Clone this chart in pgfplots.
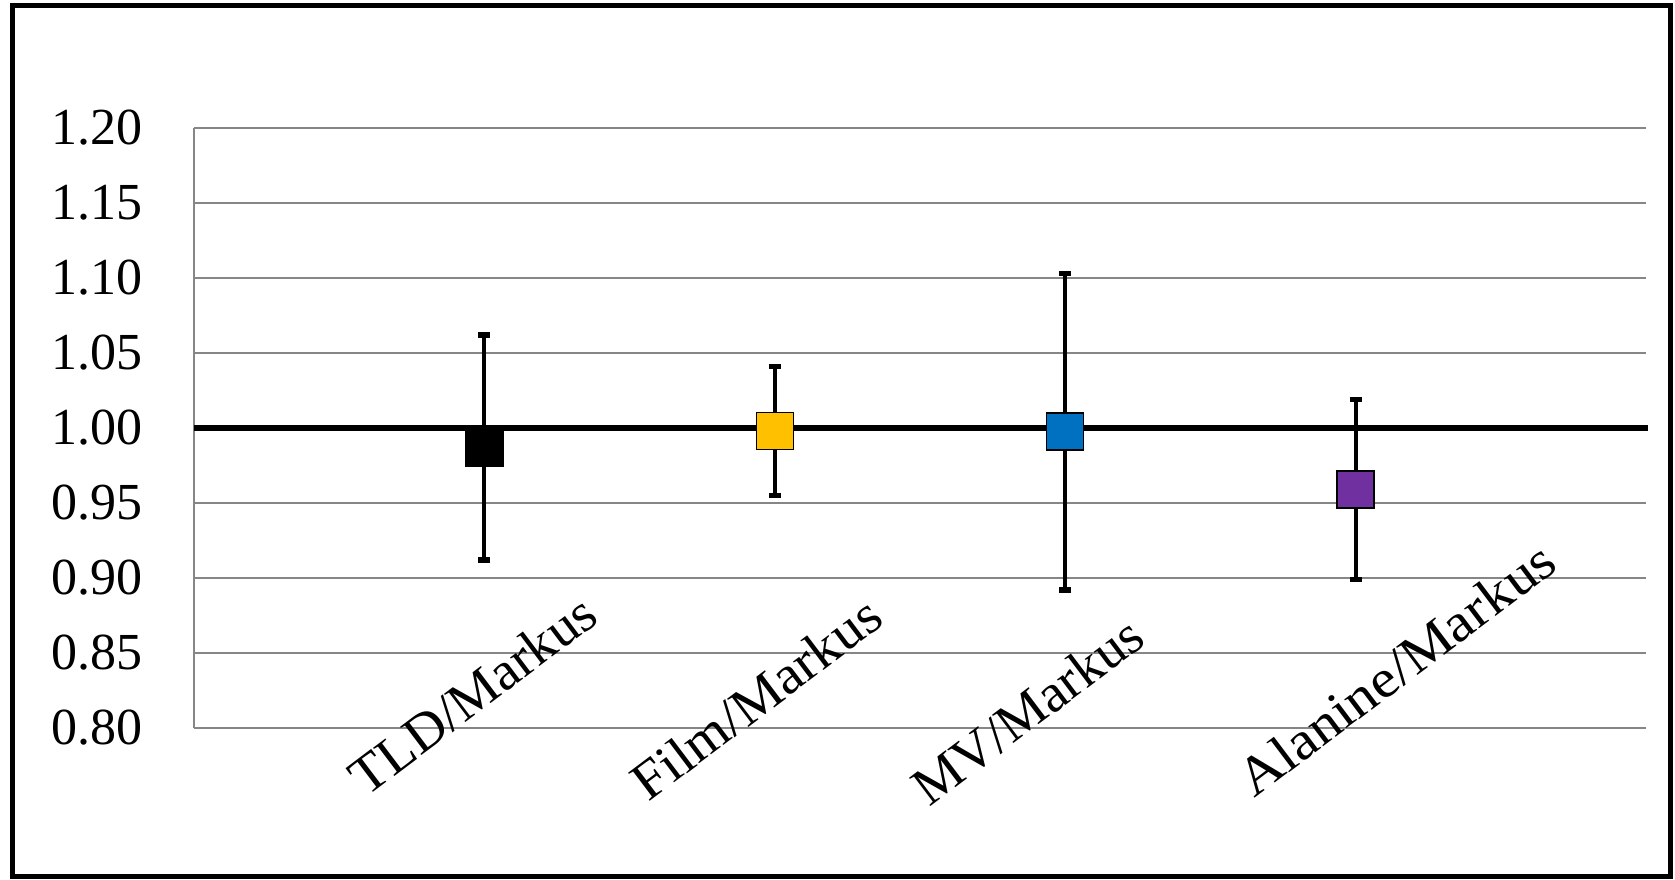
\documentclass[border=0pt]{standalone}
\usepackage{pgfplots}
\pgfplotsset{compat=1.18}
\usepackage{pgfplotstable}
\usepackage{fontspec}
\setmainfont{Liberation Serif}
\definecolor{filmc}{HTML}{FFC000}
\definecolor{mvc}{HTML}{0070C0}
\definecolor{alac}{HTML}{7030A0}
\definecolor{gridc}{HTML}{868686}
\pgfplotstableread{
x y err
1 0.987 0.075
2 0.998 0.043
3 0.9975 0.1055
4 0.959 0.060
}\datatab
\pgfplotstableread{
x y
1 0.987
}\tld
\pgfplotstableread{
x y
2 0.998
}\film
\pgfplotstableread{
x y
3 0.9975
}\mv
\pgfplotstableread{
x y
4 0.959
}\ala
\begin{document}
\begin{tikzpicture}
\useasboundingbox (0,0) rectangle (837.5pt,439.5pt);
\draw[line width=2.5pt] (6.2pt,1.2pt) rectangle (835pt,436.5pt);
\begin{axis}[
  at={(97pt,75.5pt)}, anchor=south west,
  scale only axis, width=726pt, height=300pt,
  xmin=0, xmax=5, ymin=0.8, ymax=1.2,
  clip=false,
  separate axis lines,
  axis x line=none,
  axis y line*=left,
  y axis line style={gridc, line width=0.75pt, -},
  ytick={0.80,0.85,0.90,0.95,1.00,1.05,1.10,1.15,1.20},
  major tick length=0pt,
  ymajorgrids,
  grid style={gridc, line width=0.75pt},
  yticklabel style={/pgf/number format/fixed, /pgf/number format/fixed zerofill, /pgf/number format/precision=2, /pgf/number format/assume math mode=true, inner sep=0pt, xshift=-25.5pt, font=\fontsize{26}{30}\selectfont},
  xtick=\empty,
]
\addplot[black, line width=3pt, no marks] coordinates {(0,1) (5.007,1)};
\addplot[draw=none, no marks, error bars/.cd, y dir=both, y explicit,
  error bar style={line width=2pt, black},
  error mark options={black, line width=2.8pt, mark size=3pt, rotate=90}]
  table[x=x, y=y, y error=err] {\datatab};
\addplot[only marks, mark=square*, mark size=9.25pt, mark options={fill=black, draw=black, line width=0.75pt}] table {\tld};
\addplot[only marks, mark=square*, mark size=9.25pt, mark options={fill=filmc, draw=black, line width=0.75pt}] table {\film};
\addplot[only marks, mark=square*, mark size=9.25pt, mark options={fill=mvc, draw=black, line width=0.75pt}] table {\mv};
\addplot[only marks, mark=square*, mark size=9.25pt, mark options={fill=alac, draw=black, line width=0.75pt}] table {\ala};
\node[rotate=37, anchor=base west, inner sep=0pt, font=\fontsize{27}{31}\selectfont] at (axis cs:0.592,0.7533) {\scalebox{1.03}[1]{TLD/Markus}};
\node[rotate=37, anchor=base west, inner sep=0pt, font=\fontsize{27}{31}\selectfont] at (axis cs:1.563,0.750) {\scalebox{1.057}[1]{Film/Markus}};
\node[rotate=37, anchor=base west, inner sep=0pt, font=\fontsize{27}{31}\selectfont] at (axis cs:2.531,0.7467) {\scalebox{1.024}[1]{MV/Markus}};
\node[rotate=37, anchor=base west, inner sep=0pt, font=\fontsize{27}{31}\selectfont] at (axis cs:3.650,0.7527) {\scalebox{1.09}[1]{Alanine/Markus}};
\end{axis}
\end{tikzpicture}
\end{document}
